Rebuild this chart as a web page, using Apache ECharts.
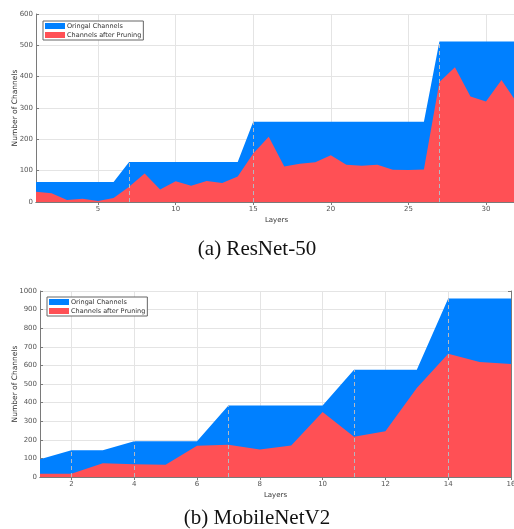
<!DOCTYPE html>
<html>
<head>
<meta charset="utf-8">
<script src="https://cdn.jsdelivr.net/npm/echarts@6/dist/echarts.min.js"></script>
<style>
  html, body { margin: 0; padding: 0; background: #fff; }
  #main { width: 514px; height: 529px; }
</style>
</head>
<body>
<div id="main"></div>
<script>
// ResNet-50
const resLayers = [1, 2, 3, 4, 5, 6, 7, 8, 9, 10, 11, 12, 13, 14, 15, 16, 17, 18, 19, 20, 21, 22, 23, 24, 25, 26, 27, 28, 29, 30, 31, 32];
const resOriginal = [64, 64, 64, 64, 64, 64, 128, 128, 128, 128, 128, 128, 128, 128, 256, 256, 256, 256, 256, 256, 256, 256, 256, 256, 256, 256, 512, 512, 512, 512, 512, 512];
const resPruned = [33, 28, 6, 10, 3, 13, 49, 91, 40, 66, 52, 67, 61, 81, 155, 208, 113, 122, 127, 149, 119, 116, 119, 103, 102, 104, 383, 430, 337, 321, 389, 316];
const resMarks = [7, 15, 27];
const resXTicks = [5, 10, 15, 20, 25, 30];

// MobileNetV2
const mbLayers = [1, 2, 3, 4, 5, 6, 7, 8, 9, 10, 11, 12, 13, 14, 15, 16];
const mbOriginal = [96, 144, 144, 192, 192, 192, 384, 384, 384, 384, 576, 576, 576, 960, 960, 960];
const mbPruned = [17, 17, 74, 68, 66, 168, 173, 148, 169, 349, 216, 246, 478, 663, 618, 607];
const mbMarks = [2, 4, 7, 11, 14];
const mbXTicks = [2, 4, 6, 8, 10, 12, 14, 16];

const names = ['Oringal Channels', 'Channels after Pruning'];
const BLUE = '#0080ff', RED = '#ff5055';
const axisColor = '#7a7a7a', labelColor = '#555';
const font = 'DejaVu Sans';

const pairs = (xs, ys) => xs.map((x, i) => [x, ys[i]]);
const marks = (layers, xs, ys) => layers.map(l => [{ coord: [l, 0] }, { coord: [l, ys[xs.indexOf(l)]] }]);

function xAxes(idx, max, ticks) {
  return [
    {
      gridIndex: idx, type: 'value', min: 1, max: max,
      name: 'Layers', nameLocation: 'middle', nameGap: 15, nameMoveOverlap: false,
      nameTextStyle: { fontFamily: font, fontSize: 7, color: '#333' },
      axisLine: { lineStyle: { color: axisColor } },
      axisTick: { inside: true, length: 3, customValues: ticks, lineStyle: { color: axisColor } },
      axisLabel: { customValues: ticks, fontFamily: font, fontSize: 7, color: labelColor, margin: 4 },
      splitLine: { show: true, lineStyle: { color: '#e4e4e4' } }
    },
    {
      gridIndex: idx, type: 'value', min: 1, max: max, position: 'top',
      axisLine: { lineStyle: { color: axisColor } },
      axisTick: { inside: true, length: 3, customValues: ticks, lineStyle: { color: axisColor } },
      axisLabel: { show: false },
      splitLine: { show: false }
    }
  ];
}

function yAxes(idx, max) {
  return [
    {
      gridIndex: idx, type: 'value', min: 0, max: max, interval: 100,
      name: 'Number of Channels', nameLocation: 'middle', nameGap: idx === 0 ? 17 : 21, nameMoveOverlap: false,
      nameTextStyle: { fontFamily: font, fontSize: 7.5, color: '#333' },
      axisLine: { show: true, lineStyle: { color: axisColor } },
      axisTick: { show: true, inside: true, length: 3, lineStyle: { color: axisColor } },
      axisLabel: { fontFamily: font, fontSize: 7, color: labelColor, margin: 3, formatter: v => String(v) },
      splitLine: { show: true, lineStyle: { color: '#e4e4e4' } }
    },
    {
      gridIndex: idx, type: 'value', min: 0, max: max, interval: 100, position: 'right',
      axisLine: { show: true, lineStyle: { color: axisColor } },
      axisTick: { show: true, inside: true, length: 3, lineStyle: { color: axisColor } },
      axisLabel: { show: false },
      splitLine: { show: false }
    }
  ];
}

function areaSeries(idx, xs, orig, pruned, markLayers) {
  return [
    {
      name: names[0], type: 'line', xAxisIndex: idx * 2, yAxisIndex: idx * 2,
      data: pairs(xs, orig), showSymbol: false, silent: true,
      lineStyle: { width: 0 }, areaStyle: { color: BLUE, opacity: 1 }, itemStyle: { color: BLUE }
    },
    {
      name: names[1], type: 'line', xAxisIndex: idx * 2, yAxisIndex: idx * 2,
      data: pairs(xs, pruned), showSymbol: false, silent: true,
      lineStyle: { width: 0 }, areaStyle: { color: RED, opacity: 1 }, itemStyle: { color: RED },
      markLine: {
        silent: true, symbol: 'none', label: { show: false },
        lineStyle: { type: [4, 3], color: '#b4b8c0', width: 1 },
        data: marks(markLayers, xs, orig)
      }
    }
  ];
}

function legendAt(left, top) {
  return {
    data: names, left: left, top: top, orient: 'vertical',
    icon: 'rect', itemWidth: 20, itemHeight: 6, itemGap: 1,
    padding: [1, 2, 1, 2], borderColor: '#666', borderWidth: 1, backgroundColor: '#fff',
    selectedMode: false,
    textStyle: { fontFamily: font, fontSize: 6.5, color: '#333', lineHeight: 8, padding: [0, 0, 0, -3] }
  };
}

const chart = echarts.init(document.getElementById('main'));
chart.setOption({
  animation: false,
  title: [
    { text: '(a) ResNet-50', left: 'center', top: 234, textStyle: { fontFamily: 'Liberation Serif', fontSize: 21, fontWeight: 'normal', color: '#111' } },
    { text: '(b) MobileNetV2', left: 'center', top: 503, textStyle: { fontFamily: 'Liberation Serif', fontSize: 21, fontWeight: 'normal', color: '#111' } }
  ],
  legend: [legendAt(43, 21), legendAt(47, 297)],
  grid: [
    { left: 36, top: 14, right: -3, height: 188, outerBoundsMode: 'none', containLabel: false },
    { left: 40, top: 291, right: 3, height: 186, outerBoundsMode: 'none', containLabel: false }
  ],
  xAxis: [...xAxes(0, 32, resXTicks), ...xAxes(1, 16, mbXTicks)],
  yAxis: [...yAxes(0, 600), ...yAxes(1, 1000)],
  series: [
    ...areaSeries(0, resLayers, resOriginal, resPruned, resMarks),
    ...areaSeries(1, mbLayers, mbOriginal, mbPruned, mbMarks)
  ]
});
</script>
</body>
</html>
